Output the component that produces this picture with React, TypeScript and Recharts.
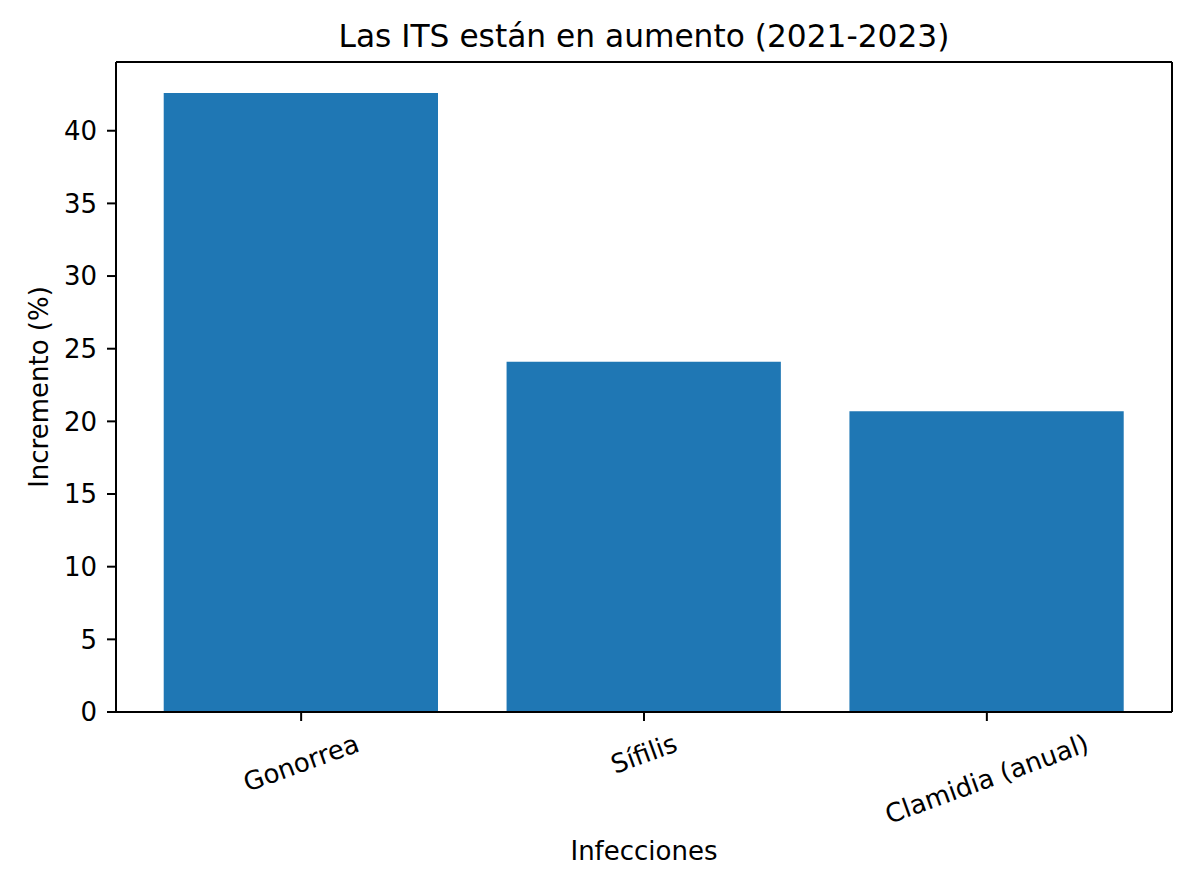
import React from "react";
import { BarChart, Bar, XAxis, YAxis, ReferenceLine } from "recharts";

const categories = ["Gonorrea", "Sífilis", "Clamidia (anual)"];
const increments = [42.6, 24.1, 20.7];
const yTicks = [0, 5, 10, 15, 20, 25, 30, 35, 40];
const xTicks = [0, 1, 2];

const title = "Las ITS están en aumento (2021-2023)";
const xLabel = "Infecciones";
const yLabel = "Incremento (%)";

const data = categories.map((name, i) => ({ x: i, name, value: increments[i] }));

const FONT = "'DejaVu Sans', 'Liberation Sans', sans-serif";
const FS = 26;
const TITLE_FS = 31.25;
const W = 1200;
const H = 891;
const MARGIN = { top: 62, right: 28, bottom: 79, left: 0 };
const X_AXIS_H = 100;
const Y_AXIS_W = 116;
const X_DOMAIN: [number, number] = [-0.54, 2.54];
const Y_MAX = Math.max(...increments) * 1.05;
const plotWidth = W - MARGIN.left - MARGIN.right - Y_AXIS_W;
const BAR_SIZE = (0.8 * plotWidth) / (X_DOMAIN[1] - X_DOMAIN[0]);
const ANGLE = 20;

let ctx: CanvasRenderingContext2D | null = null;
const measure = (s: string, fs: number) => {
  try {
    if (!ctx) ctx = document.createElement("canvas").getContext("2d");
    if (ctx) {
      ctx.font = `${fs}px "DejaVu Sans"`;
      return ctx.measureText(s).width;
    }
  } catch (e) {}
  return s.length * fs * 0.6;
};

const XTick = (props: any) => {
  const { x, y, payload } = props;
  const label = categories[payload.value] ?? "";
  const w = measure(label, FS);
  const rad = (ANGLE * Math.PI) / 180;
  const cy = y + (w * Math.sin(rad) + FS * Math.cos(rad)) / 2;
  return (
    <text
      x={x}
      y={cy}
      transform={`rotate(${-ANGLE}, ${x}, ${cy})`}
      textAnchor="middle"
      dominantBaseline="central"
      fontSize={FS}
      fontFamily={FONT}
      fill="#000"
    >
      {label}
    </text>
  );
};

const XLabel = (props: any) => {
  const vb = props.viewBox || { x: 0, y: 0, width: 0, height: 0 };
  return (
    <text
      x={vb.x + vb.width / 2}
      y={vb.y + 147.5}
      textAnchor="middle"
      fontSize={FS}
      fontFamily={FONT}
      fill="#000"
    >
      {xLabel}
    </text>
  );
};

const YLabel = (props: any) => {
  const vb = props.viewBox || { x: 0, y: 0, width: 0, height: 0 };
  const x = vb.x + 48;
  const y = vb.y + vb.height / 2;
  return (
    <text
      x={x}
      y={y}
      transform={`rotate(-90, ${x}, ${y})`}
      textAnchor="middle"
      fontSize={FS}
      fontFamily={FONT}
      fill="#000"
    >
      {yLabel}
    </text>
  );
};

const TitleLabel = (props: any) => {
  const vb = props.viewBox || { x: 0, y: 0, width: 0, height: 0 };
  return (
    <text
      x={vb.x + vb.width / 2}
      y={vb.y - 15.5}
      textAnchor="middle"
      fontSize={TITLE_FS}
      fontFamily={FONT}
      fill="#000"
    >
      {title}
    </text>
  );
};

const axisLine = { stroke: "#000", strokeWidth: 2 };
const tickLine = { stroke: "#000", strokeWidth: 2 };

export default function App() {
  return (
    <div style={{ position: "absolute", left: 0, top: 0, width: W, height: H, background: "#fff", fontFamily: FONT }}>
      <BarChart width={W} height={H} data={data} margin={MARGIN}>
        <XAxis
          dataKey="x"
          type="number"
          domain={X_DOMAIN}
          ticks={xTicks}
          allowDataOverflow
          height={X_AXIS_H}
          axisLine={axisLine}
          tickLine={tickLine}
          tickSize={9}
          tickMargin={9}
          tick={<XTick />}
          interval={0}
          label={{ content: <XLabel /> }}
        />
        <YAxis
          type="number"
          domain={[0, Y_MAX]}
          allowDataOverflow
          ticks={yTicks}
          width={Y_AXIS_W}
          axisLine={axisLine}
          tickLine={tickLine}
          tickSize={9}
          tickMargin={10}
          tick={{ fontSize: FS, fill: "#000", fontFamily: FONT }}
          interval={0}
          label={{ content: <YLabel /> }}
        />
        <Bar dataKey="value" fill="#1f77b4" barSize={BAR_SIZE} isAnimationActive={false} />
        <ReferenceLine
          y={Y_MAX}
          stroke="#000"
          strokeWidth={2}
          ifOverflow="extendDomain"
          label={{ content: <TitleLabel /> }}
        />
        <ReferenceLine x={X_DOMAIN[1]} stroke="#000" strokeWidth={2} ifOverflow="extendDomain" />
      </BarChart>
    </div>
  );
}
